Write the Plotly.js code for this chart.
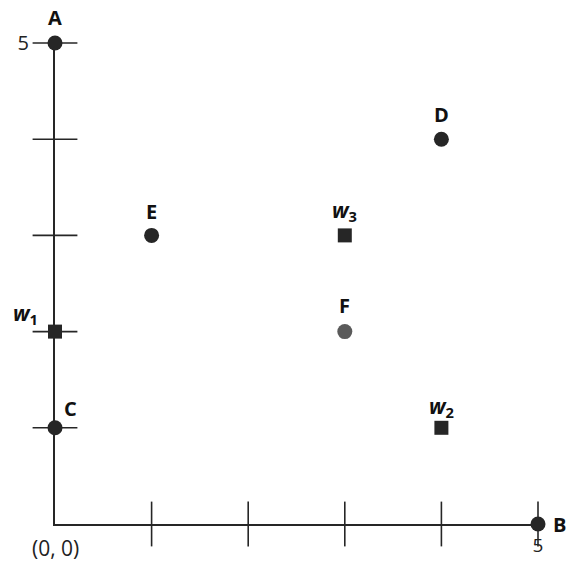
<!DOCTYPE html>
<html>
<head>
<meta charset="utf-8">
<script src="https://cdn.plot.ly/plotly-3.0.1.min.js"></script>
<style>html,body{margin:0;padding:0;background:#fff;}#chart{width:568px;height:562px;}</style>
</head>
<body>
<div id="chart"></div>
<script>
// Data
var circleNames = ["A", "B", "C", "D", "E", "F"];
var circleX = [0, 5, 0, 4, 1, 3];
var circleY = [5, 0, 1, 4, 3, 2];
var squareNames = ["w1", "w2", "w3"];
var squareX = [0, 4, 3];
var squareY = [2, 1, 3];
var tickVals = [1, 2, 3, 4, 5];
var tickText = ["", "", "", "", "5"];
var originLabel = "(0, 0)";

// Styles (separate from data)
var ink = "#262626";
var labelOffsets = {
  A: [0, 26], B: [21, 0], C: [15, 19], D: [0, 25], E: [0, 24], F: [0, 26],
  w1: [-30, 18], w2: [0, 21], w3: [0, 24]
};
var pointColors = {A: ink, B: ink, C: ink, D: ink, E: ink, F: "#5a5a5a"};

function labelHtml(n) {
  if (n.charAt(0) === "w") return "<b><i>w</i><sub>" + n.slice(1) + "</sub></b>";
  return "<b>" + n + "</b>";
}

var traces = [
  { // crossing tick marks on y axis
    x: tickVals.map(function () { return 0; }), y: tickVals,
    mode: "markers", type: "scatter", hoverinfo: "skip", cliponaxis: false,
    marker: {symbol: "line-ew", size: 32, line: {color: ink, width: 1.6}}
  },
  { // crossing tick marks on x axis
    x: tickVals, y: tickVals.map(function () { return 0; }),
    mode: "markers", type: "scatter", hoverinfo: "skip", cliponaxis: false,
    marker: {symbol: "line-ns", size: 32, line: {color: ink, width: 1.6}}
  },
  {
    x: circleX, y: circleY, mode: "markers", type: "scatter", cliponaxis: false,
    marker: {symbol: "circle", size: 15, color: circleNames.map(function (n) { return pointColors[n]; }), line: {width: 0}}
  },
  {
    x: squareX, y: squareY, mode: "markers", type: "scatter", cliponaxis: false,
    marker: {symbol: "square", size: 14, color: ink, line: {width: 0}}
  }
];

var annotations = [];
circleNames.forEach(function (n, i) {
  annotations.push({x: circleX[i], y: circleY[i], xref: "x", yref: "y", text: labelHtml(n), showarrow: false,
    xshift: labelOffsets[n][0], yshift: labelOffsets[n][1], font: {family: "Open Sans", size: 20, color: "#111"}});
});
squareNames.forEach(function (n, i) {
  annotations.push({x: squareX[i], y: squareY[i], xref: "x", yref: "y", text: labelHtml(n), showarrow: false,
    xshift: labelOffsets[n][0], yshift: labelOffsets[n][1], font: {family: "Open Sans", size: 21, color: "#111"}});
});
annotations.push({x: 0, y: 0, xref: "x", yref: "y", text: originLabel, showarrow: false,
  yshift: -24, font: {family: "Open Sans", size: 21, color: "#222"}});

var layout = {
  width: 568, height: 562,
  margin: {l: 55, r: 30, t: 43, b: 38},
  paper_bgcolor: "#fff", plot_bgcolor: "#fff",
  showlegend: false,
  xaxis: {range: [0, 5], showgrid: false, zeroline: false, showline: true, linecolor: ink, linewidth: 2,
    tickvals: tickVals, ticktext: tickText, ticks: "outside", ticklen: 3, tickcolor: "rgba(0,0,0,0)",
    tickfont: {family: "Open Sans", size: 19, color: "#222"}, fixedrange: true},
  yaxis: {range: [0, 5], showgrid: false, zeroline: false, showline: true, linecolor: ink, linewidth: 2,
    tickvals: tickVals, ticktext: tickText, ticks: "outside", ticklen: 20, tickcolor: "rgba(0,0,0,0)",
    tickfont: {family: "Open Sans", size: 20, color: "#222"}, fixedrange: true},
  annotations: annotations
};

Plotly.newPlot("chart", traces, layout, {staticPlot: true});
</script>
</body>
</html>
